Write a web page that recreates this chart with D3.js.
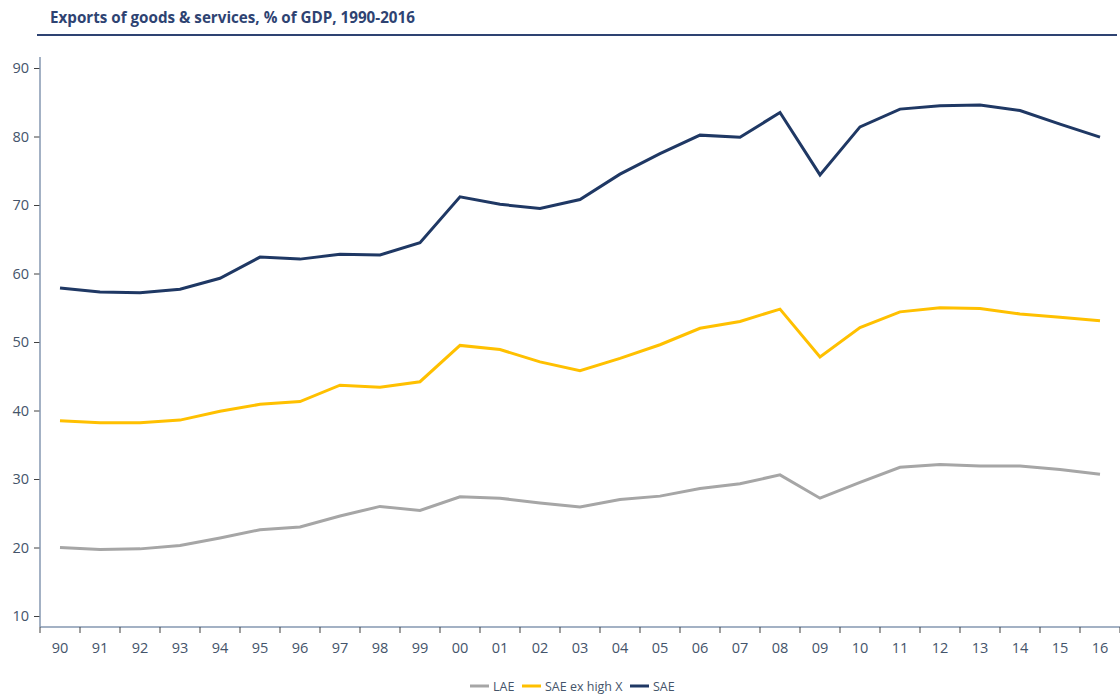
<!DOCTYPE html>
<html>
<head>
<meta charset="utf-8">
<script src="https://cdn.jsdelivr.net/npm/d3@7"></script>
<style>
  html, body { margin: 0; padding: 0; background: #fff; }
  svg { display: block; }
  text { font-family: "Open Sans", "Noto Sans", sans-serif; }
</style>
</head>
<body>
<svg id="chart" width="1120" height="696"></svg>
<script>
const title = "Exports of goods & services, % of GDP, 1990-2016";
const years = ["90","91","92","93","94","95","96","97","98","99","00","01","02","03","04","05","06","07","08","09","10","11","12","13","14","15","16"];
const yTicks = [10, 20, 30, 40, 50, 60, 70, 80, 90];
const seriesNames = ["LAE", "SAE ex high X", "SAE"];
const seriesColors = ["#a6a6a6", "#ffc000", "#1f3864"];
const lae = [20.0, 19.7, 19.8, 20.3, 21.4, 22.6, 23.0, 24.6, 26.0, 25.4, 27.4, 27.2, 26.5, 25.9, 27.0, 27.5, 28.6, 29.3, 30.6, 27.2, 29.5, 31.7, 32.1, 31.9, 31.9, 31.4, 30.7];
const saeExHighX = [38.5, 38.2, 38.2, 38.6, 39.9, 40.9, 41.3, 43.7, 43.4, 44.2, 49.5, 48.9, 47.1, 45.8, 47.6, 49.6, 52.0, 53.0, 54.8, 47.8, 52.1, 54.4, 55.0, 54.9, 54.1, 53.6, 53.1];
const sae = [57.9, 57.3, 57.2, 57.7, 59.3, 62.4, 62.1, 62.8, 62.7, 64.5, 71.2, 70.1, 69.5, 70.8, 74.5, 77.5, 80.2, 79.9, 83.5, 74.4, 81.4, 84.0, 84.5, 84.6, 83.8, 81.8, 79.9];
const seriesValues = [lae, saeExHighX, sae];

const svg = d3.select("#chart");
const axisColor = "#8497b0";
const textColor = "#44546a";

// Title
svg.append("text")
  .attr("x", 50).attr("y", 23)
  .attr("font-size", 15.2).attr("font-weight", "bold")
  .attr("fill", "#2e4372")
  .text(title);
svg.append("line")
  .attr("x1", 37).attr("x2", 1117).attr("y1", 35).attr("y2", 35)
  .attr("stroke", "#2e4372").attr("stroke-width", 2);

const x = d3.scaleBand().domain(years).range([40, 1120]).paddingInner(0).paddingOuter(0);
const y = d3.scaleLinear().domain([10, 90]).range([616, 68]);
const axisY = 627;

// Y axis
const yAxis = svg.append("g").attr("transform", "translate(40,0)")
  .call(d3.axisLeft(y).tickValues(yTicks).tickSize(6).tickPadding(5));
yAxis.select(".domain").remove();
yAxis.selectAll(".tick line").attr("stroke", "#404040");
yAxis.selectAll(".tick text").attr("fill", textColor).attr("font-size", 14.5);
svg.append("line").attr("x1", 40).attr("x2", 40).attr("y1", 57).attr("y2", axisY)
  .attr("stroke", axisColor).attr("stroke-width", 1.5);

// X axis
const xAxis = svg.append("g").attr("transform", `translate(0,${axisY})`)
  .call(d3.axisBottom(x).tickSize(0).tickPadding(16));
xAxis.select(".domain").remove();
xAxis.selectAll(".tick text").attr("fill", textColor).attr("font-size", 14.5);
svg.append("line").attr("x1", 40).attr("x2", 1120).attr("y1", axisY).attr("y2", axisY)
  .attr("stroke", axisColor).attr("stroke-width", 1.5);
// boundary tick marks
const boundaries = years.map(d => x(d)).concat([x(years[years.length-1]) + x.bandwidth()]);
svg.append("g").selectAll("line").data(boundaries).join("line")
  .attr("x1", d => d).attr("x2", d => d)
  .attr("y1", axisY).attr("y2", axisY + 6)
  .attr("stroke", "#404040").attr("stroke-width", 1);

// Lines
const line = d3.line()
  .x((d, i) => x(years[i]) + x.bandwidth() / 2)
  .y(d => y(d));
svg.append("g").selectAll("path").data(seriesValues).join("path")
  .attr("d", d => line(d))
  .attr("fill", "none")
  .attr("stroke", (d, i) => seriesColors[i])
  .attr("stroke-width", 3)
  .attr("stroke-linejoin", "miter");

// Legend
const legendX = [470, 522, 630];
const lg = svg.append("g");
seriesNames.forEach((name, i) => {
  lg.append("line")
    .attr("x1", legendX[i]).attr("x2", legendX[i] + 19)
    .attr("y1", 686).attr("y2", 686)
    .attr("stroke", seriesColors[i]).attr("stroke-width", 3);
  lg.append("text")
    .attr("x", legendX[i] + 23).attr("y", 690.5)
    .attr("font-size", 12.5).attr("fill", textColor)
    .text(name);
});
</script>
</body>
</html>
